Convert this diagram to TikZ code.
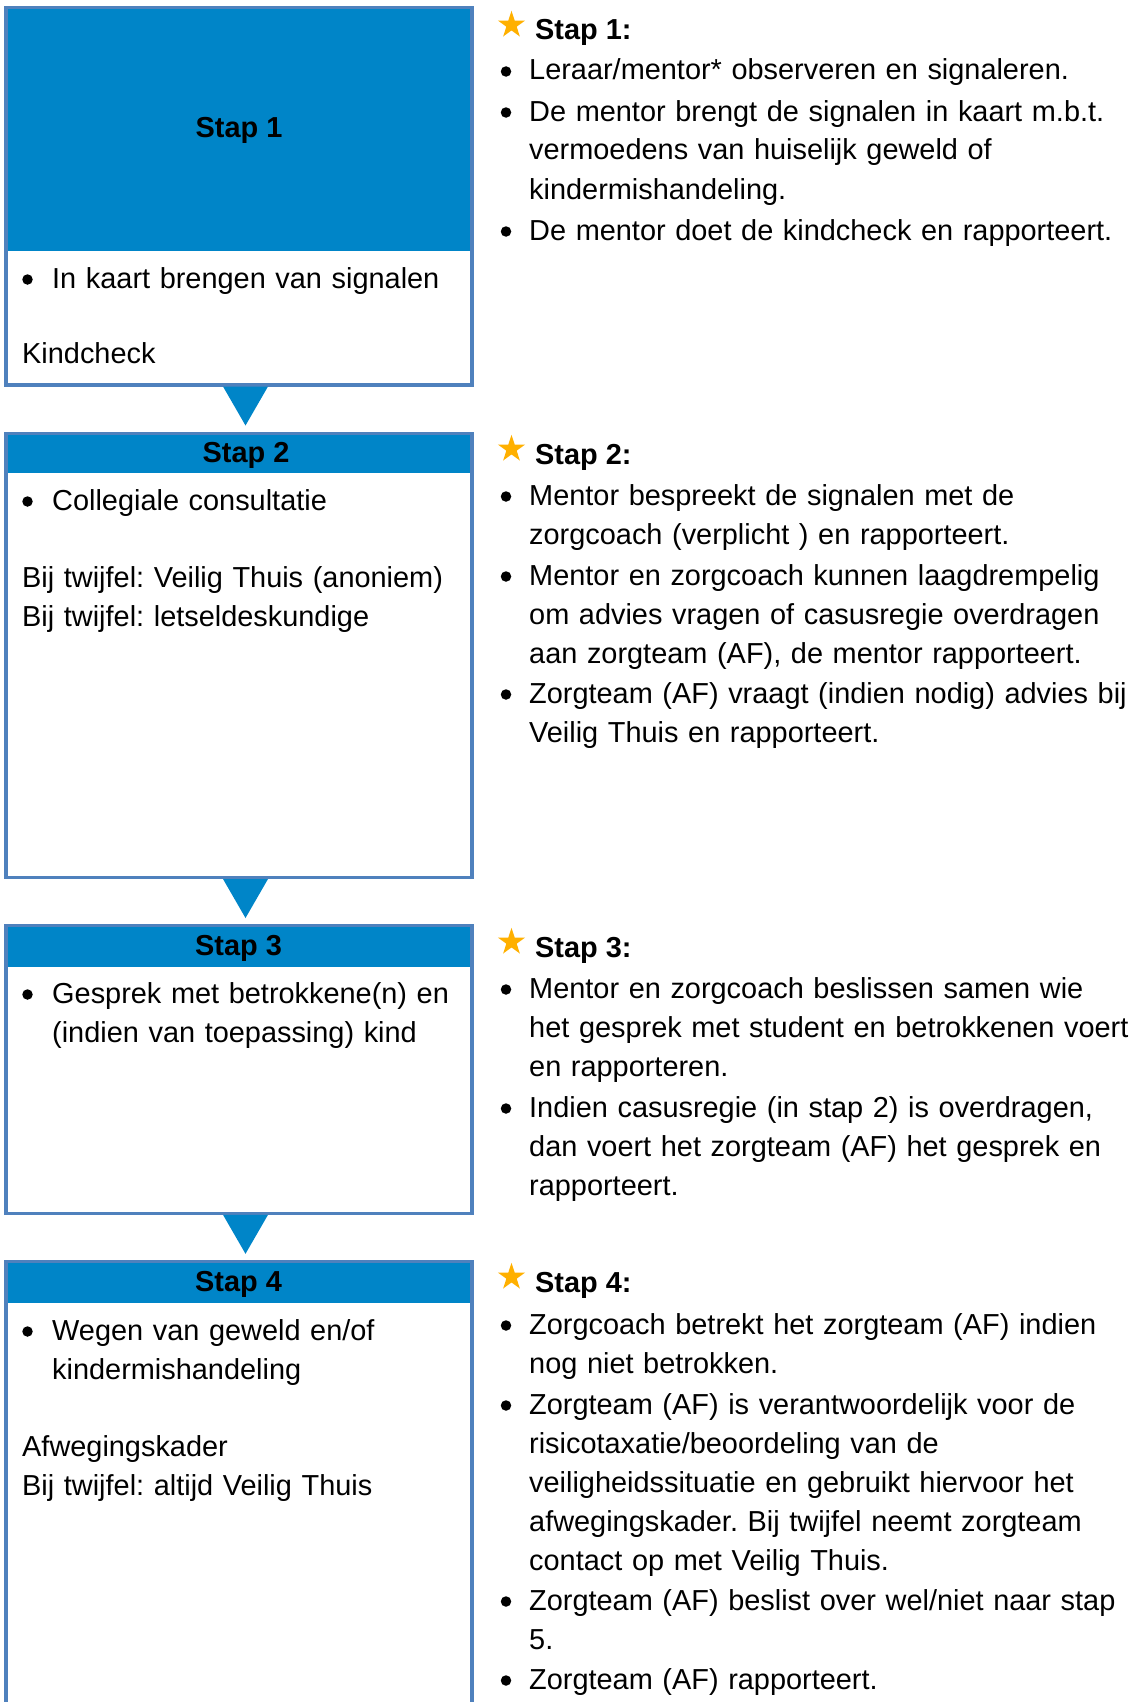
\documentclass[tikz,border=0pt]{standalone}
\usepackage{fontspec}
\setmainfont{Liberation Sans}
\usetikzlibrary{shapes.geometric}

\definecolor{stepblue}{RGB}{0,133,200}
\definecolor{stepline}{RGB}{79,129,189}
\definecolor{stargold}{RGB}{255,176,0}

\newcommand{\stepfont}{\fontsize{28.9}{39}\selectfont\frenchspacing}

\tikzset{
	stepbar/.style={fill=stepblue, inner sep=0pt, outer sep=0pt, minimum width=466pt, anchor=north west},
	stepbox/.style={draw=stepline, line width=3.5pt, inner sep=0pt, outer sep=0pt, minimum width=466pt, anchor=north west},
	steptitle/.style={font=\stepfont\bfseries, inner sep=0pt, anchor=base},
	boxtext/.style={font=\stepfont, inner sep=0pt, anchor=base west, text width=700pt, align=left},
	dot/.style={circle, fill=black, inner sep=0pt, minimum size=10.5pt},
	stepstar/.style={star, star points=5, star point ratio=2.618, fill=stargold, inner sep=0pt, minimum size=28.5pt},
	downtri/.style={fill=stepblue}
}

\begin{document}
\begin{tikzpicture}[x=1pt,y=-1pt]
	\useasboundingbox (0,0) rectangle (1131,1702);
	
	% left column: the four steps
	\node[stepbar, minimum height=243pt] (bar1) at (6,7.7) {};
	\node[stepbox, minimum height=377.3pt] (box1) at (bar1.north west) {};
	\node[stepbar, minimum height=39.8pt] (bar2) at (6,433.5) {};
	\node[stepbox, minimum height=444pt] (box2) at (bar2.north west) {};
	\node[stepbar, minimum height=41pt] (bar3) at (6,925.7) {};
	\node[stepbox, minimum height=287.6pt] (box3) at (bar3.north west) {};
	\node[stepbar, minimum height=41pt] (bar4) at (6,1261.7) {};
	\node[stepbox, minimum height=460pt] (box4) at (bar4.north west) {};
	
	\foreach \a in {1,2,3}
		\fill[downtri] ([xshift=-16pt,yshift=-1.5pt]box\a.south) -- ([xshift=29pt,yshift=-1.5pt]box\a.south) -- ([xshift=6.5pt,yshift=-40.5pt]box\a.south) -- cycle;
	
	\node[steptitle] (title1) at (239,137) {Stap 1};
	\node[steptitle] (title2) at (246,462) {Stap 2};
	\node[steptitle] (title3) at (238.5,955) {Stap 3};
	\node[steptitle] (title4) at (238.5,1291) {Stap 4};
	
	\foreach \y [count=\i] in {288,510,1003,1340}
		\node[dot] (ldot\i) at (27.5,\y-8.5) {};
	
	\node[boxtext] (item1) at (52,288) {In kaart brengen van signalen};
	\node[boxtext] (note1) at (22,363) {Kindcheck};
	\node[boxtext] (item2) at (52,510) {Collegiale consultatie};
	\node[boxtext] (note2) at (22,587) {Bij twijfel: Veilig Thuis (anoniem)\\Bij twijfel: letseldeskundige};
	\node[boxtext] (item3) at (52,1003) {Gesprek met betrokkene(n) en\\(indien van toepassing) kind};
	\node[boxtext] (item4) at (52,1340) {Wegen van geweld en/of\\kindermishandeling};
	\node[boxtext] (note4) at (22,1456) {Afwegingskader\\Bij twijfel: altijd Veilig Thuis};
	
	% right column: explanation per step
	\foreach \y/\n in {40/1,464/2,957/3,1292/4} {
		\node[stepstar] (star\n) at (511.5,\y-15) {};
		\node[steptitle, anchor=base west] (head\n) at (535,\y) {Stap \n:};
	}
	
	\foreach \y [count=\i] in {80,121,240,505,585,703,998,1117,1334,1414,1610,1689}
		\node[dot] (rdot\i) at (506,\y-8.5) {};
	
	\node[boxtext] (s1a) at (529,80) {Leraar/mentor* observeren en signaleren.};
	\node[boxtext] (s1b) at (529,121) {De mentor brengt de signalen in kaart m.b.t.\\vermoedens van huiselijk geweld of\\kindermishandeling.};
	\node[boxtext] (s1c) at (529,240) {De mentor doet de kindcheck en rapporteert.};
	
	\node[boxtext] (s2a) at (529,505) {Mentor bespreekt de signalen met de\\zorgcoach (verplicht ) en rapporteert.};
	\node[boxtext] (s2b) at (529,585) {Mentor en zorgcoach kunnen laagdrempelig\\om advies vragen of casusregie overdragen\\aan zorgteam (AF), de mentor rapporteert.};
	\node[boxtext] (s2c) at (529,703) {Zorgteam (AF) vraagt (indien nodig) advies bij\\Veilig Thuis en rapporteert.};
	
	\node[boxtext] (s3a) at (529,998) {Mentor en zorgcoach beslissen samen wie\\het gesprek met student en betrokkenen voert\\en rapporteren.};
	\node[boxtext] (s3b) at (529,1117) {Indien casusregie (in stap 2) is overdragen,\\dan voert het zorgteam (AF) het gesprek en\\rapporteert.};
	
	\node[boxtext] (s4a) at (529,1334) {Zorgcoach betrekt het zorgteam (AF) indien\\nog niet betrokken.};
	\node[boxtext] (s4b) at (529,1414) {Zorgteam (AF) is verantwoordelijk voor de\\risicotaxatie/beoordeling van de\\veiligheidssituatie en gebruikt hiervoor het\\afwegingskader. Bij twijfel neemt zorgteam\\contact op met Veilig Thuis.};
	\node[boxtext] (s4c) at (529,1610) {Zorgteam (AF) beslist over wel/niet naar stap\\5.};
	\node[boxtext] (s4d) at (529,1689) {Zorgteam (AF) rapporteert.};
	
\end{tikzpicture}
\end{document}
